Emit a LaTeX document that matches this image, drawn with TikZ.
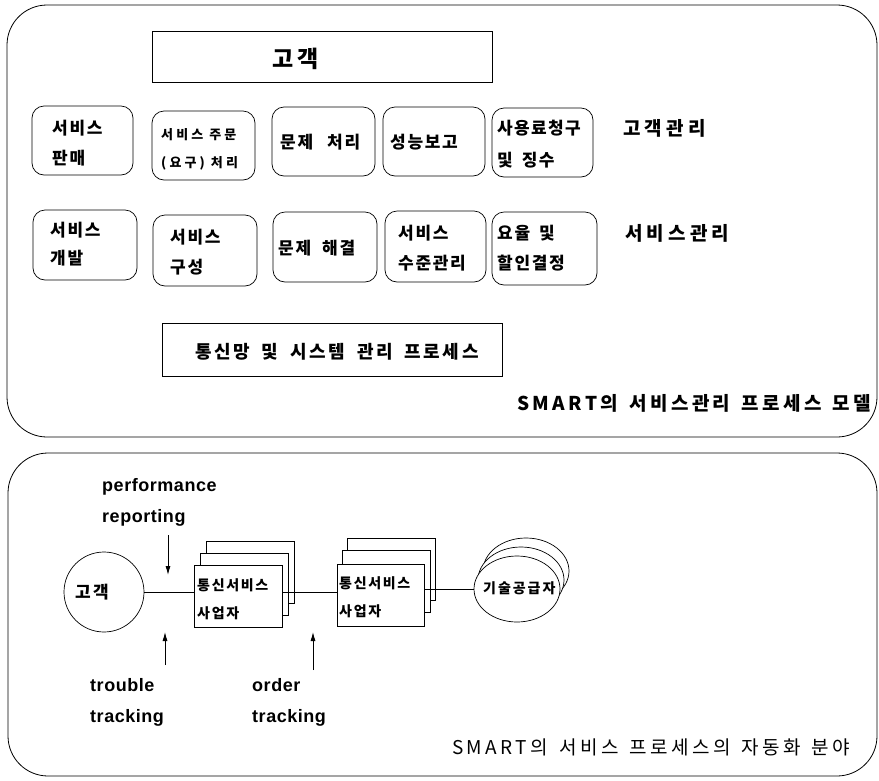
\documentclass[tikz,border=0pt]{standalone}
\usepackage{fontspec}
\newfontfamily\kr{Noto Sans CJK KR}
\newfontfamily\lat{Liberation Sans}
\usetikzlibrary{arrows.meta,shapes.geometric}
\newcommand{\ls}[1]{\addfontfeature{LetterSpace=#1}}
\begin{document}
\begin{tikzpicture}[x=1pt,y=-1pt,
  panel/.style={draw,line width=0.8pt,rounded corners=40pt},
  rbox/.style={draw,line width=0.7pt,rounded corners=12pt,inner sep=0pt},
  sbox/.style={draw,line width=0.7pt,inner sep=0pt},
  stk/.style={draw,line width=0.7pt,fill=white,inner sep=0pt,minimum width=88pt,minimum height=62pt},
  ell/.style={draw,line width=0.7pt,fill=white,ellipse,inner sep=0pt,minimum width=86pt,minimum height=66pt},
  btxt/.style={anchor=west,align=left,inner sep=0pt,font={\kr\bfseries\fontsize{17}{30}\selectfont\ls{10}}},
  stxt/.style={anchor=west,align=left,inner sep=0pt,font={\kr\bfseries\fontsize{13}{28}\selectfont\ls{24}}},
  lbl/.style={anchor=west,inner sep=0pt,font={\kr\bfseries\fontsize{19}{22}\selectfont\ls{22}}},
  ltxt/.style={anchor=west,align=left,inner sep=0pt,font={\lat\bfseries\fontsize{18}{31}\selectfont\ls{3}}},
  ptxt/.style={anchor=west,align=left,inner sep=0pt,font={\kr\bfseries\fontsize{14}{28}\selectfont\ls{12}}},
  arr/.style={line width=0.8pt,-{Latex[length=9pt,width=5pt]}},
  conn/.style={line width=0.7pt}]
\useasboundingbox (0,0) rectangle (879,780);
% panels
\draw[panel] (7,5) rectangle (877,437);
\draw[panel] (8,453) rectangle (877,776);
% top panel
\node[sbox,minimum width=340pt,minimum height=51pt] (cust) at (322,56.5) {};
\node[anchor=west,inner sep=0pt,font={\kr\bfseries\fontsize{23}{24}\selectfont\ls{18}}] (custt) at (272,59) {고객};
% row 1
\node[rbox,minimum width=101pt,minimum height=69pt] (b11) at (82.5,140.5) {};
\node[btxt] (t11) at (52,143) {서비스\\판매};
\node[rbox,minimum width=103pt,minimum height=69pt] (b12) at (203.5,145.5) {};
\node[stxt] (t12) at (161,149) {서비스 주문\\(요구) 처리};
\node[rbox,minimum width=103pt,minimum height=69pt] (b13) at (323.5,141.5) {};
\node[btxt] (t13) at (280,142) {문제\hspace{14pt}처리};
\node[rbox,minimum width=102pt,minimum height=69pt] (b14) at (434,141.5) {};
\node[btxt] (t14) at (390,142) {성능보고};
\node[rbox,minimum width=101pt,minimum height=69pt] (b15) at (542.5,142.5) {};
\node[btxt,font={\kr\bfseries\fontsize{17}{32}\selectfont\ls{8}}] (t15) at (497,144) {사용료청구\\및\hspace{9pt}징수};
\node[lbl] (l1) at (623,128) {고객관리};
% row 2
\node[rbox,minimum width=104pt,minimum height=70pt] (b21) at (85,245) {};
\node[btxt,font={\kr\bfseries\fontsize{17}{28}\selectfont\ls{10}}] (t21) at (50,244) {서비스\\개발};
\node[rbox,minimum width=104pt,minimum height=71pt] (b22) at (205,250.5) {};
\node[btxt] (t22) at (170,252) {서비스\\구성};
\node[rbox,minimum width=104pt,minimum height=70pt] (b23) at (325,247) {};
\node[btxt] (t23) at (278,248) {문제\hspace{11pt}해결};
\node[rbox,minimum width=101pt,minimum height=71pt] (b24) at (435.5,246.5) {};
\node[btxt] (t24) at (398,248) {서비스\\수준관리};
\node[rbox,minimum width=105pt,minimum height=73pt] (b25) at (544.5,248.5) {};
\node[btxt] (t25) at (497,248) {요율\hspace{9pt}및\\할인결정};
\node[lbl] (l2) at (625,233) {서비스관리};
% system box
\node[sbox,minimum width=340pt,minimum height=53pt] (sys) at (332,349.5) {};
\node[anchor=west,inner sep=0pt,font={\kr\bfseries\fontsize{18}{20}\selectfont\ls{14}}] (syst) at (195,352) {통신망\hspace{12pt}및\hspace{12pt}시스템\hspace{12pt}관리\hspace{12pt}프로세스};
\node[anchor=west,inner sep=0pt,font={\kr\bfseries\fontsize{19}{22}\selectfont\ls{18}}] (title1) at (517,403) {SMART의\hspace{11pt}서비스관리\hspace{11pt}프로세스\hspace{11pt}모델};
% bottom panel
\node[ltxt] (perf) at (102,502) {performance\\reporting};
\coordinate (pa) at (168,535);
\coordinate (pb) at (168,575);
\draw[arr] (pa) -- (pb);
\node[draw,circle,line width=0.7pt,minimum size=80pt,inner sep=0pt] (c) at (104,592) {};
\node[anchor=west,inner sep=0pt,font={\kr\bfseries\fontsize{17}{20}\selectfont\ls{14}}] (ct) at (75,592) {고객};
% stack 1
\node[stk] (s13) at (250,572.5) {};
\node[stk] (s12) at (244,584.5) {};
\node[stk] (f1) at (238,596.5) {};
\node[ptxt] (f1t) at (197,599) {통신서비스\\사업자};
% stack 2
\node[stk] (s23) at (391.5,569) {};
\node[stk] (s22) at (386,581.5) {};
\node[stk,minimum width=87pt] (f2) at (380.5,595) {};
\node[ptxt] (f2t) at (339,597) {통신서비스\\사업자};
% ellipses
\node[ell] (e3) at (526,571) {};
\node[ell] (e2) at (521,580) {};
\node[ell] (e) at (517,589) {};
\node[anchor=west,inner sep=0pt,font={\kr\bfseries\fontsize{14}{16}\selectfont\ls{14}}] (et) at (483,588) {기술공급자};
% connectors
\draw[conn] (c.east) -- (c.east -| f1.west);
\draw[conn] (c.east -| f1.east) -- (c.east -| f2.west);
\draw[conn] (e.west -| f2.east) -- (e.west);
% arrows
\coordinate (ta) at (165,665);
\coordinate (tb) at (165,632);
\draw[arr] (ta) -- (tb);
\coordinate (oa) at (313,670);
\coordinate (ob) at (313,632);
\draw[arr] (oa) -- (ob);
\node[ltxt] (tt) at (90,702) {trouble\\tracking};
\node[ltxt] (ot) at (252,702) {order\\tracking};
\node[anchor=west,inner sep=0pt,font={\kr\fontsize{19}{22}\selectfont\ls{18}}] (title2) at (452,747) {SMART의\hspace{11pt}서비스\hspace{11pt}프로세스의\hspace{11pt}자동화\hspace{11pt}분야};
\end{tikzpicture}
\end{document}
